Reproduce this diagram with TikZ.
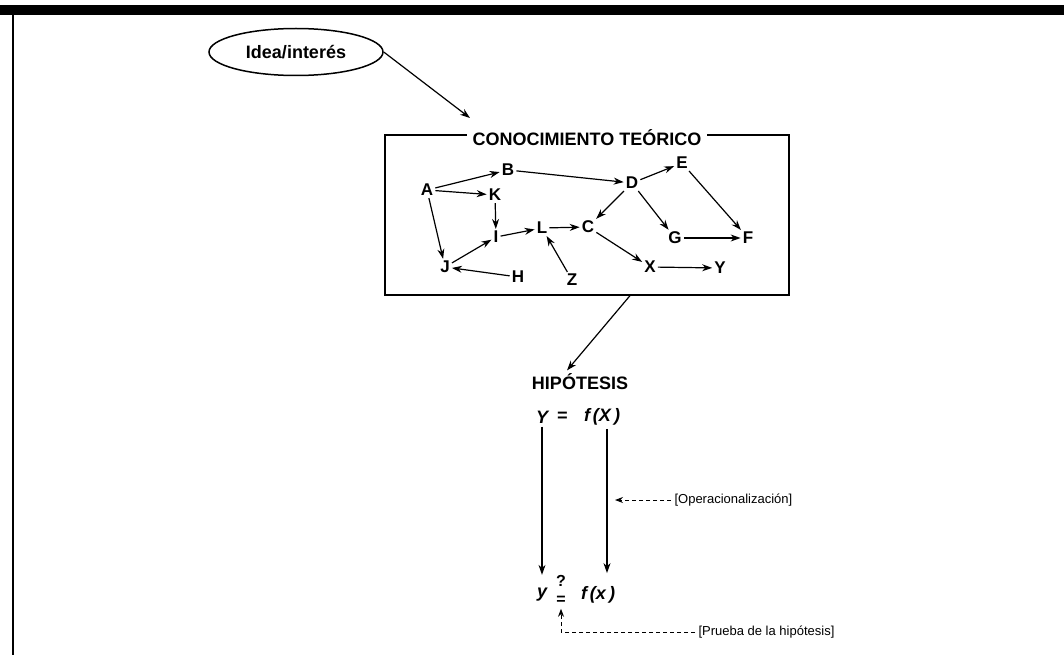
\documentclass[tikz,border=0pt]{standalone}
\usepackage{fontspec}
\setmainfont{Liberation Sans}
\usetikzlibrary{shapes.geometric, arrows.meta, positioning, calc}

\begin{document}
\begin{tikzpicture}[
    x=1pt, y=-1pt,
    letra/.style={font=\fontsize{17}{19}\selectfont\bfseries, inner sep=2pt},
    titulo/.style={font=\fontsize{18}{20}\selectfont\bfseries},
    nota/.style={font=\fontsize{13}{15}\selectfont},
    formula/.style={font=\fontsize{18}{20}\selectfont\bfseries\itshape},
    arrow/.style={-{Stealth[length=10pt, width=7pt]}, line width=1.2pt},
    dasharrow/.style={-{Stealth[length=8pt, width=6pt]}, dash pattern=on 4pt off 3pt, line width=1pt},
]
\useasboundingbox (0,0) rectangle (1064,655);

% Frame
\fill (0,5) rectangle (1064,15);
\draw[line width=2pt] (13,15) -- (13,655);

% Idea and box
\node[ellipse, draw, line width=1.5pt, minimum width=174pt, minimum height=47pt, titulo] (idea) at (296,52) {Idea/interés};
\node[draw, line width=1.3pt, minimum width=404pt, minimum height=160pt] (teoria) at (587,215) {};
\node[titulo, fill=white, inner xsep=6pt, inner ysep=1pt] (conoc) at (587,138) {CONOCIMIENTO TEÓRICO};
\coordinate (idea-fin) at (470,118);

% Nodes
\node[letra] (A) at (427,190) {A};
\node[letra] (B) at (508,170) {B};
\node[letra] (K) at (495,195) {K};
\node[letra] (I) at (496,237) {I};
\node[letra] (L) at (542,228) {L};
\node[letra] (C) at (588,227) {C};
\node[letra] (D) at (632,183) {D};
\node[letra] (E) at (682,163) {E};
\node[letra] (G) at (675,238) {G};
\node[letra] (F) at (748,238) {F};
\node[letra] (J) at (445,267) {J};
\node[letra] (H) at (518,277) {H};
\node[letra] (Z) at (572,280) {Z};
\node[letra] (X) at (650,267) {X};
\node[letra] (Y) at (720,268) {Y};

% Hypothesis
\node[titulo] (hipo) at (580,382) {HIPÓTESIS};
\node[formula] (Ymay) at (542,417) {Y};
\node[formula] (igual) at (562,417) {=};
\node[formula] (fX) at (602,417) {f\,(X\,)};
\node[formula] (ymin) at (542,595) {y};
\node[formula, font=\fontsize{16}{18}\selectfont\bfseries, align=center, inner sep=4pt] (igual2) at (561,590) {?\\=};
\node[formula] (fx) at (598,595) {f\,(x\,)};
\node[nota, anchor=west] (oper) at (671,500) {[Operacionalización]};
\node[nota, anchor=west] (prueba) at (695,632) {[Prueba de la hipótesis]};
\coordinate (oper-fin) at (615,500);

% Arrows
\draw[arrow] (idea.east) -- (idea-fin);
\draw[arrow] (A) -- (B);
\draw[arrow] (A) -- (K);
\draw[arrow] (A) -- (J);
\draw[arrow] (K) -- (I);
\draw[arrow] (J) -- (I);
\draw[arrow] (I) -- (L);
\draw[arrow] (L) -- (C);
\draw[arrow] (Z) -- (L);
\draw[arrow] (H) -- (J);
\draw[arrow] (B) -- (D);
\draw[arrow] (D) -- (E);
\draw[arrow] (D) -- (C);
\draw[arrow] (D) -- (G);
\draw[arrow] (E) -- (F);
\draw[arrow] (G) -- (F);
\draw[arrow] (C) -- (X);
\draw[arrow] (X) -- (Y);
\draw[arrow] ([xshift=43pt]teoria.south) -- ([xshift=-13pt]hipo.north);
\draw[arrow] (Ymay.south) -- ([yshift=10pt]ymin.north);
\draw[arrow] ([xshift=5pt]fX.south) -- ([xshift=9pt, yshift=10pt]fx.north);
\draw[dasharrow] (oper.west) -- (oper-fin);
\draw[dasharrow] (prueba.west) -| (igual2.south);

\end{tikzpicture}
\end{document}
